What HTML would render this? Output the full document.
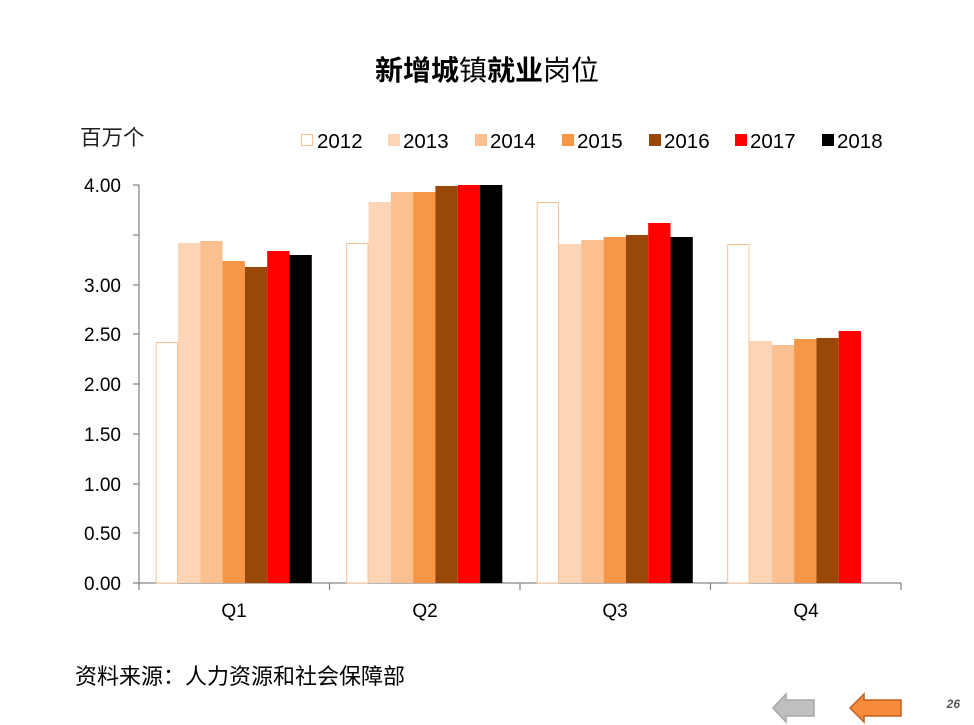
<!DOCTYPE html>
<html><head><meta charset="utf-8"><style>
html,body{margin:0;padding:0;background:#fff;}
svg{display:block;font-family:"Liberation Sans","Noto Sans CJK SC",sans-serif;}
</style></head><body>
<svg width="974" height="725" viewBox="0 0 974 725" xmlns="http://www.w3.org/2000/svg">
<text x="487" y="80" text-anchor="middle" font-size="28" fill="#000"><tspan font-weight="bold">新增城</tspan>镇<tspan font-weight="bold">就业</tspan>岗位</text>
<text x="80" y="145" font-size="21.5" fill="#222">百万个</text>
<!-- legend -->
<g font-size="20.5" fill="#000">
<rect x="301.5" y="134.5" width="11" height="11" fill="#fff" stroke="#FAC090"/><text x="317" y="148">2012</text>
<rect x="388" y="134" width="12" height="12" fill="#FBD5B5"/><text x="403" y="148">2013</text>
<rect x="475" y="134" width="12" height="12" fill="#FAC090"/><text x="490" y="148">2014</text>
<rect x="562" y="134" width="12" height="12" fill="#F79646"/><text x="577" y="148">2015</text>
<rect x="649" y="134" width="12" height="12" fill="#984807"/><text x="664" y="148">2016</text>
<rect x="735" y="134" width="12" height="12" fill="#FF0000"/><text x="750" y="148">2017</text>
<rect x="822" y="134" width="12" height="12" fill="#000"/><text x="837" y="148">2018</text>
</g>
<!-- y axis -->
<g stroke="#888" stroke-width="1.3">
<line x1="139" y1="185" x2="139" y2="583"/>
<line x1="133" y1="185" x2="139" y2="185"/>
<line x1="133" y1="235" x2="139" y2="235"/>
<line x1="133" y1="285" x2="139" y2="285"/>
<line x1="133" y1="334" x2="139" y2="334"/>
<line x1="133" y1="384" x2="139" y2="384"/>
<line x1="133" y1="434" x2="139" y2="434"/>
<line x1="133" y1="484" x2="139" y2="484"/>
<line x1="133" y1="533" x2="139" y2="533"/>
<line x1="133" y1="583" x2="139" y2="583"/>
<line x1="139" y1="583" x2="901" y2="583"/>
<line x1="139" y1="583" x2="139" y2="590"/>
<line x1="329.5" y1="583" x2="329.5" y2="590"/>
<line x1="520" y1="583" x2="520" y2="590"/>
<line x1="710.5" y1="583" x2="710.5" y2="590"/>
<line x1="901" y1="583" x2="901" y2="590"/>
</g>
<g font-size="19" fill="#000" text-anchor="end">
<text x="121" y="192">4.00</text>
<text x="121" y="292">3.00</text>
<text x="121" y="341">2.50</text>
<text x="121" y="391">2.00</text>
<text x="121" y="441">1.50</text>
<text x="121" y="491">1.00</text>
<text x="121" y="540">0.50</text>
<text x="121" y="590">0.00</text>
</g>
<g font-size="19" fill="#000" text-anchor="middle">
<text x="234" y="617">Q1</text>
<text x="425" y="617">Q2</text>
<text x="615" y="617">Q3</text>
<text x="806" y="617">Q4</text>
</g>
<!-- bars -->
<g>
<rect x="156.2" y="342.5" width="21.3" height="240.5" fill="#fff" stroke="#FAC090"/>
<rect x="178" y="243" width="22.3" height="340" fill="#FBD5B5"/>
<rect x="200.3" y="241" width="22.3" height="342" fill="#FAC090"/>
<rect x="222.6" y="261" width="22.3" height="322" fill="#F79646"/>
<rect x="244.9" y="267" width="22.3" height="316" fill="#984807"/>
<rect x="267.2" y="251" width="22.3" height="332" fill="#FF0000"/>
<rect x="289.5" y="255" width="22.3" height="328" fill="#000"/>

<rect x="346.7" y="243.5" width="21.3" height="339.5" fill="#fff" stroke="#FAC090"/>
<rect x="368.5" y="202" width="22.3" height="381" fill="#FBD5B5"/>
<rect x="390.8" y="192" width="22.3" height="391" fill="#FAC090"/>
<rect x="413.1" y="192" width="22.3" height="391" fill="#F79646"/>
<rect x="435.4" y="186" width="22.3" height="397" fill="#984807"/>
<rect x="457.7" y="185" width="22.3" height="398" fill="#FF0000"/>
<rect x="480" y="185" width="22.3" height="398" fill="#000"/>

<rect x="537.2" y="202.5" width="21.3" height="380.5" fill="#fff" stroke="#FAC090"/>
<rect x="559" y="244" width="22.3" height="339" fill="#FBD5B5"/>
<rect x="581.3" y="240" width="22.3" height="343" fill="#FAC090"/>
<rect x="603.6" y="237" width="22.3" height="346" fill="#F79646"/>
<rect x="625.9" y="235" width="22.3" height="348" fill="#984807"/>
<rect x="648.2" y="223" width="22.3" height="360" fill="#FF0000"/>
<rect x="670.5" y="237" width="22.3" height="346" fill="#000"/>

<rect x="727.7" y="244.5" width="21.3" height="338.5" fill="#fff" stroke="#FAC090"/>
<rect x="749.5" y="341" width="22.3" height="242" fill="#FBD5B5"/>
<rect x="771.8" y="345" width="22.3" height="238" fill="#FAC090"/>
<rect x="794.1" y="339" width="22.3" height="244" fill="#F79646"/>
<rect x="816.4" y="338" width="22.3" height="245" fill="#984807"/>
<rect x="838.7" y="331" width="22.3" height="252" fill="#FF0000"/>
</g>
<text x="75" y="684" font-size="22" fill="#000">资料来源：人力资源和社会保障部</text>
<!-- arrows -->
<polygon points="773,708 786,694 786,700 814,700 814,716 786,716 786,722" fill="#BFBFBF" stroke="#A6A6A6" stroke-width="1.5"/>
<polygon points="850,708 864,694 864,700 901,700 901,716 864,716 864,722" fill="#F68B3C" stroke="#C0601C" stroke-width="1.5"/>
<text x="960" y="708" font-size="12" font-weight="bold" font-style="italic" fill="#555" text-anchor="end">26</text>
</svg>
</body></html>
